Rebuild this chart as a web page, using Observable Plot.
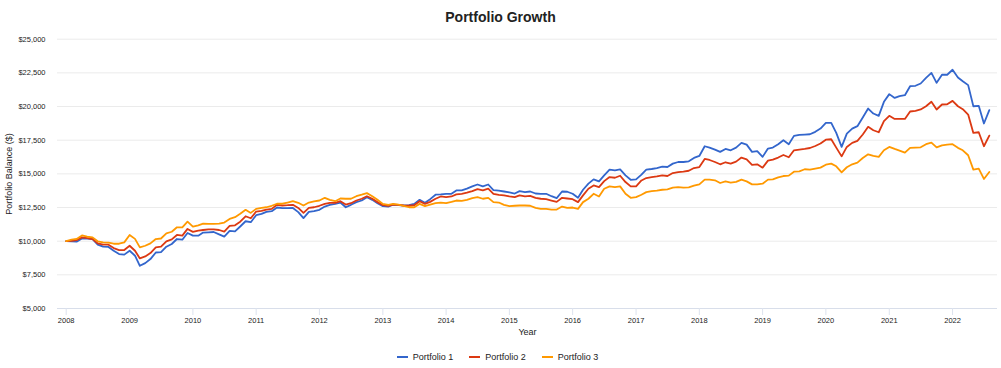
<!DOCTYPE html>
<html><head><meta charset="utf-8">
<script src="https://cdn.jsdelivr.net/npm/d3@7"></script>
<script src="https://cdn.jsdelivr.net/npm/@observablehq/plot@0.6"></script>
<style>
body{margin:0;background:#fff;font-family:"Liberation Sans",Arial,sans-serif;}
#wrap{width:1001px;height:368px;overflow:hidden;}
#title{height:30px;line-height:34px;text-align:center;font-weight:bold;font-size:14px;color:#222;}
#chart svg{display:block;}
#legend{height:23px;display:flex;justify-content:center;align-items:center;font-size:9px;color:#222;padding-right:6px;}
.item{display:flex;align-items:center;margin:0 8px;}
.sw{width:11px;height:2px;margin-right:5px;}
</style></head><body>
<div id="wrap"><div id="title">Portfolio Growth</div><div id="chart"></div><div id="legend"></div></div>
<script>
// Series names and colours
const seriesNames = ["Portfolio 1", "Portfolio 2", "Portfolio 3"];
const seriesColors = ["#3366cc", "#dc3912", "#ff9900"];

// Monthly balances, Jan 2008 .. Aug 2022
const portfolio1 = [
  10000, 9990, 9960, 10200, 10200, 10160, 9740, 9590, 9570, 9290, 9045, 9000,
  9290, 8920, 8170, 8370, 8670, 9160, 9180, 9590, 9790, 10160, 10110, 10610,
  10410, 10410, 10640, 10660, 10680, 10510, 10336, 10760, 10730, 11090, 11480, 11410,
  11930, 12030, 12180, 12230, 12500, 12450, 12450, 12470, 12160, 11710, 12180, 12230,
  12330, 12570, 12700, 12770, 12870, 12520, 12700, 12900, 13020, 13270, 13070, 12820,
  12600, 12570, 12720, 12670, 12650, 12670, 12770, 13070, 12850, 13120, 13450, 13470,
  13520, 13520, 13770, 13770, 13900, 14070, 14210, 14070, 14210, 13790, 13750, 13690,
  13620, 13540, 13720, 13650, 13690, 13540, 13520, 13520, 13340, 13200, 13690, 13670,
  13520, 13220, 13820, 14270, 14590, 14440, 14890, 15310, 15260, 15330, 14890, 14560,
  14590, 14940, 15310, 15360, 15430, 15530, 15510, 15760, 15880, 15880, 15930, 16180,
  16330, 17050, 16950, 16800, 16630, 16850, 16750, 16950, 17300, 17170, 16630, 16680,
  16260, 16880, 16950, 17200, 17500, 17200, 17820, 17890, 17920, 17940, 18120, 18360,
  18780, 18780, 18040, 17000, 17990, 18360, 18540, 19180, 19850, 19480, 19310, 20350,
  20920, 20640, 20770, 20840, 21510, 21540, 21710, 22130, 22500, 21760, 22360, 22360,
  22730, 22160, 21880, 21590, 20020, 20050, 18740, 19730
];
const portfolio2 = [
  10000, 10020, 10070, 10280, 10230, 10160, 9840, 9740, 9740, 9490, 9340, 9340,
  9660, 9290, 8720, 8870, 9120, 9540, 9590, 9990, 10130, 10460, 10410, 10910,
  10690, 10780, 10830, 10880, 10880, 10830, 10710, 11130, 11180, 11450, 11850, 11700,
  12200, 12250, 12350, 12400, 12700, 12650, 12670, 12700, 12470, 12100, 12470, 12520,
  12630, 12770, 12850, 12850, 12970, 12720, 12820, 13020, 13150, 13340, 13150, 12900,
  12670, 12630, 12720, 12700, 12650, 12630, 12670, 12970, 12770, 12920, 13150, 13320,
  13270, 13320, 13470, 13520, 13600, 13720, 13870, 13770, 13900, 13520, 13440, 13400,
  13320, 13270, 13400, 13320, 13370, 13220, 13150, 13120, 13020, 12920, 13220, 13170,
  13120, 12900, 13400, 13890, 14140, 14010, 14460, 14760, 14710, 14860, 14390, 14070,
  14070, 14510, 14690, 14760, 14810, 14890, 14840, 15060, 15130, 15160, 15230, 15430,
  15500, 16110, 16030, 15880, 15710, 15860, 15760, 15910, 16210, 16080, 15660, 15710,
  15460, 15980, 16060, 16210, 16400, 16230, 16750, 16800, 16850, 16920, 17070, 17250,
  17540, 17570, 16950, 16300, 17000, 17300, 17450, 17920, 18490, 18240, 18090, 18910,
  19310, 19080, 19080, 19080, 19630, 19680, 19780, 20020, 20350, 19780, 20150, 20170,
  20420, 20020, 19800, 19400, 18040, 18090, 17050, 17840
];
const portfolio3 = [
  10000, 10120, 10170, 10430, 10330, 10280, 9990, 9910, 9890, 9810, 9810, 9910,
  10460, 10170, 9540, 9660, 9840, 10160, 10200, 10580, 10700, 11030, 11030, 11450,
  11080, 11180, 11300, 11280, 11280, 11300, 11380, 11650, 11780, 12030, 12330, 12100,
  12400, 12480, 12520, 12630, 12780, 12780, 12870, 12970, 12850, 12650, 12870, 12950,
  13020, 13220, 13070, 12970, 13170, 13150, 13150, 13340, 13450, 13570, 13340, 13070,
  12770, 12700, 12770, 12720, 12630, 12520, 12520, 12770, 12600, 12720, 12820, 12870,
  12820, 12920, 13020, 13000, 13070, 13200, 13270, 13150, 13220, 12900, 12870, 12700,
  12600, 12630, 12650, 12650, 12630, 12470, 12400, 12400, 12350, 12350, 12570, 12470,
  12500, 12400, 12900, 13150, 13520, 13320, 13890, 14070, 14010, 14070, 13520, 13220,
  13270, 13450, 13640, 13720, 13750, 13820, 13850, 13970, 14010, 13970, 13990, 14120,
  14220, 14570, 14570, 14520, 14320, 14440, 14350, 14400, 14570, 14440, 14220, 14220,
  14270, 14570, 14590, 14740, 14840, 14870, 15160, 15190, 15340, 15310, 15390, 15460,
  15680, 15760, 15560, 15110, 15490, 15710, 15830, 16180, 16450, 16330, 16260, 16750,
  17000, 16850, 16730, 16580, 16930, 16950, 16970, 17200, 17320, 16970, 17120, 17170,
  17200, 16930, 16750, 16380, 15310, 15390, 14620, 15140
];

// Tick values
const yearTicks = [2008, 2009, 2010, 2011, 2012, 2013, 2014, 2015, 2016, 2017, 2018, 2019, 2020, 2021, 2022];
const balanceTicks = [5000, 7500, 10000, 12500, 15000, 17500, 20000, 22500, 25000];

const seriesValues = [portfolio1, portfolio2, portfolio3];
const startMonth = new Date(Date.UTC(2008, 0, 1));
const months = d3.utcMonth.range(startMonth, d3.utcMonth.offset(startMonth, portfolio1.length));
const rows = [];
seriesNames.forEach((name, i) => seriesValues[i].forEach((v, j) => rows.push({date: months[j], value: v, series: name})));
const yearTickDates = yearTicks.map(y => new Date(Date.UTC(y, 0, 1)));

const chart = Plot.plot({
  width: 1001, height: 315,
  marginLeft: 57, marginRight: 4, marginTop: 9, marginBottom: 37,
  style: {fontFamily: '"Liberation Sans", Arial, sans-serif', fontSize: "7.5px", color: "#222", background: "#fff"},
  x: {type: "utc", domain: [months[0], months[months.length - 1]], range: [65.7, 988.8]},
  y: {domain: [5000, 25000], range: [278, 8.7]},
  color: {domain: seriesNames, range: seriesColors},
  marks: [
    Plot.gridY(balanceTicks, {stroke: "#ebebeb", strokeOpacity: 1, strokeWidth: 1}),
    Plot.ruleY([5000], {stroke: "#d8deea"}),
    Plot.axisY(balanceTicks, {tickSize: 0, tickPadding: 12, tickFormat: d3.format("$,"), label: null, fontSize: 7.5}),
    Plot.axisX(yearTickDates, {tickSize: 7, tickPadding: 2, stroke: "#dde3ee", strokeOpacity: 1, tickFormat: d3.utcFormat("%Y"), label: null, fontSize: 7.5}),
    Plot.line(rows, {x: "date", y: "value", z: "series", stroke: "series", strokeWidth: 1.8}),
    Plot.text(["Portfolio Balance ($)"], {text: d => d, frameAnchor: "left", dx: -48, rotate: -90, textAnchor: "middle", fontSize: 9, fill: "#222"}),
    Plot.text(["Year"], {text: d => d, frameAnchor: "bottom", dy: 26, fontSize: 9, fill: "#222"})
  ]
});
document.getElementById("chart").appendChild(chart);

const legend = document.getElementById("legend");
seriesNames.forEach((name, i) => {
  const item = document.createElement("div");
  item.className = "item";
  const sw = document.createElement("div");
  sw.className = "sw";
  sw.style.background = seriesColors[i];
  const label = document.createElement("span");
  label.textContent = name;
  item.appendChild(sw);
  item.appendChild(label);
  legend.appendChild(item);
});
</script>
</body></html>
